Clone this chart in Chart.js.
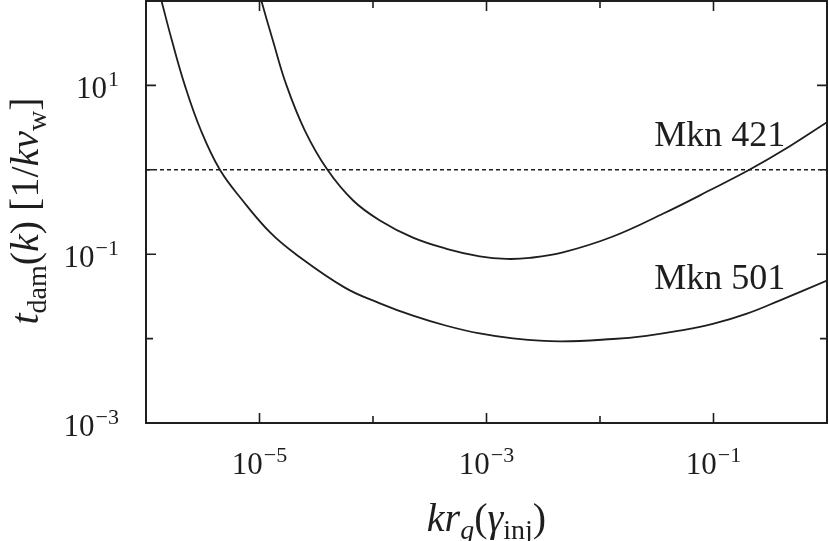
<!DOCTYPE html>
<html>
<head>
<meta charset="utf-8">
<script src="https://cdn.jsdelivr.net/npm/chart.js@4.4.1/dist/chart.umd.min.js"></script>
<style>
  html, body { margin: 0; padding: 0; background: #fff; }
  #wrap { width: 829px; height: 541px; }
</style>
</head>
<body>
<div id="wrap"><canvas id="dampChart" width="829" height="541"></canvas></div>
<script>
// damping time vs k r_g(gamma_inj)
var mkn501X = [1.28e-6, 1.37e-6, 1.69e-6, 2.20e-6, 3.05e-6, 4.48e-6, 7.10e-6, 1.24e-5, 2.05e-5, 5.65e-5, 1.15e-4, 2.25e-4, 4.44e-4, 8.71e-4, 1.71e-3, 4.41e-3, 1.30e-2, 2.56e-2, 5.02e-2, 9.86e-2, 0.194, 0.381, 1.0];
var mkn501Y = [141.6, 100, 34.2, 10, 2.92, 1, 0.433, 0.181, 0.102, 0.0402, 0.0262, 0.0187, 0.0142, 0.0115, 0.01005, 0.00927, 0.00989, 0.0108, 0.0124, 0.0149, 0.0196, 0.0282, 0.0486];
var mkn421X = [9.68e-6, 1.04e-5, 1.31e-5, 1.73e-5, 2.51e-5, 3.97e-5, 6.68e-5, 1.15e-4, 2.25e-4, 4.44e-4, 8.71e-4, 1.50e-3, 2.40e-3, 4.71e-3, 1.30e-2, 3.58e-2, 9.86e-2, 0.207, 0.407, 1.0];
var mkn421Y = [141.6, 100, 34.2, 10, 2.92, 1, 0.433, 0.251, 0.157, 0.116, 0.0944, 0.0879, 0.0904, 0.105, 0.162, 0.301, 0.596, 1, 1.69, 3.67];
var refX = [1e-6, 1];
var refY = [1, 1];

var xMajor = [1e-5, 1e-3, 1e-1];
var xMajorExp = ["\u22125", "\u22123", "\u22121"];
var xMinor = [1e-4, 1e-2];
var yMajor = [10, 0.1, 0.001];
var yMajorExp = ["1", "\u22121", "\u22123"];
var yMinor = [1, 0.01];

var seriesNames = ["Mkn 421", "Mkn 501"];
var nameX = [0.030, 0.030];
var nameY = [1.94, 0.039];

var serif = "'Liberation Serif', 'DejaVu Serif', serif";
var ink = '#1e1e1e';

function pts(xs, ys) {
    return xs.map(function (x, i) { return {x: x, y: ys[i]}; });
}

function drawRich(ctx, parts, x, y, align) {
    var total = 0;
    parts.forEach(function (p) { ctx.font = p.font; total += ctx.measureText(p.t).width + (p.gap || 0); });
    var cx = align === 'right' ? x - total : (align === 'center' ? x - total / 2 : x);
    ctx.textAlign = 'left';
    ctx.textBaseline = 'alphabetic';
    parts.forEach(function (p) {
        ctx.font = p.font;
        ctx.fillText(p.t, cx, y + (p.dy || 0));
        cx += ctx.measureText(p.t).width + (p.gap || 0);
    });
}

var big = "31px " + serif, sup = "22px " + serif;
var rom = "36px " + serif;
var tRom = "40px " + serif, tIta = "italic 40px " + serif;
var subR = "28px " + serif, subI = "italic 28px " + serif;

var framePlugin = {
    id: 'frame',
    afterDraw: function (chart) {
        var ctx = chart.ctx, a = chart.chartArea;
        var xs = chart.scales.x, ys = chart.scales.y;
        ctx.save();
        ctx.strokeStyle = ink;
        ctx.fillStyle = ink;

        // ticks, inward on all four sides
        ctx.lineWidth = 1.6;
        function xt(v, len) {
            var px = xs.getPixelForValue(v);
            ctx.beginPath();
            ctx.moveTo(px, a.bottom); ctx.lineTo(px, a.bottom - len);
            ctx.moveTo(px, a.top); ctx.lineTo(px, a.top + len);
            ctx.stroke();
        }
        function yt(v, len) {
            var py = ys.getPixelForValue(v);
            ctx.beginPath();
            ctx.moveTo(a.left, py); ctx.lineTo(a.left + len, py);
            ctx.moveTo(a.right, py); ctx.lineTo(a.right - len, py);
            ctx.stroke();
        }
        xMajor.forEach(function (v) { xt(v, 10); });
        xMinor.forEach(function (v) { xt(v, 7); });
        yMajor.forEach(function (v) { yt(v, 10); });
        yMinor.forEach(function (v) { yt(v, 7); });

        // frame
        ctx.lineWidth = 2;
        ctx.strokeRect(a.left, a.top, a.right - a.left, a.bottom - a.top);

        // tick labels
        xMajor.forEach(function (v, i) {
            drawRich(ctx, [{t: "10", font: big, gap: 1}, {t: xMajorExp[i], font: sup, dy: -12}],
                xs.getPixelForValue(v), 474, 'center');
        });
        yMajor.forEach(function (v, i) {
            drawRich(ctx, [{t: "10", font: big, gap: 1}, {t: yMajorExp[i], font: sup, dy: -12}],
                119, ys.getPixelForValue(v) + 13, 'right');
        });

        // series names
        seriesNames.forEach(function (n, i) {
            ctx.font = rom;
            ctx.textAlign = 'left';
            ctx.fillText(n, xs.getPixelForValue(nameX[i]), ys.getPixelForValue(nameY[i]));
        });

        // axis titles
        drawRich(ctx, [
            {t: "kr", font: tIta}, {t: "g", font: subI, dy: 8}, {t: "(", font: tRom},
            {t: "\u03b3", font: tIta}, {t: "inj", font: subR, dy: 8}, {t: ")", font: tRom}
        ], (a.left + a.right) / 2, 531, 'center');

        ctx.translate(38, 211);
        ctx.rotate(-Math.PI / 2);
        drawRich(ctx, [
            {t: "t", font: tIta}, {t: "dam", font: subR, dy: 8}, {t: "(", font: tRom},
            {t: "k", font: tIta}, {t: ") [1/", font: tRom}, {t: "kv", font: tIta},
            {t: "w", font: subR, dy: 8}, {t: "]", font: tRom}
        ], 0, 0, 'center');
        ctx.restore();
    }
};

var lineStyle = {
    borderColor: ink,
    borderWidth: 1.8,
    pointRadius: 0,
    fill: false,
    tension: 0.4
};

var ctx = document.getElementById("dampChart").getContext("2d");
new Chart(ctx, {
    type: 'line',
    data: {
        datasets: [
            Object.assign({label: seriesNames[0], data: pts(mkn421X, mkn421Y)}, lineStyle),
            Object.assign({label: seriesNames[1], data: pts(mkn501X, mkn501Y)}, lineStyle),
            {label: 'ref', data: pts(refX, refY), borderColor: ink, borderWidth: 1.5,
             borderDash: [4, 3], pointRadius: 0, fill: false}
        ]
    },
    options: {
        responsive: false,
        animation: false,
        layout: {padding: {top: 1, right: 2, left: 0, bottom: 0}},
        plugins: {legend: {display: false}, tooltip: {enabled: false}},
        scales: {
            x: {
                type: 'logarithmic', min: 1e-6, max: 1,
                grid: {display: false}, border: {display: false},
                ticks: {display: false},
                afterFit: function (s) { s.height = 118; }
            },
            y: {
                type: 'logarithmic', min: 1e-3, max: 100,
                grid: {display: false}, border: {display: false},
                ticks: {display: false},
                afterFit: function (s) { s.width = 146; }
            }
        }
    },
    plugins: [framePlugin]
});
</script>
</body>
</html>
